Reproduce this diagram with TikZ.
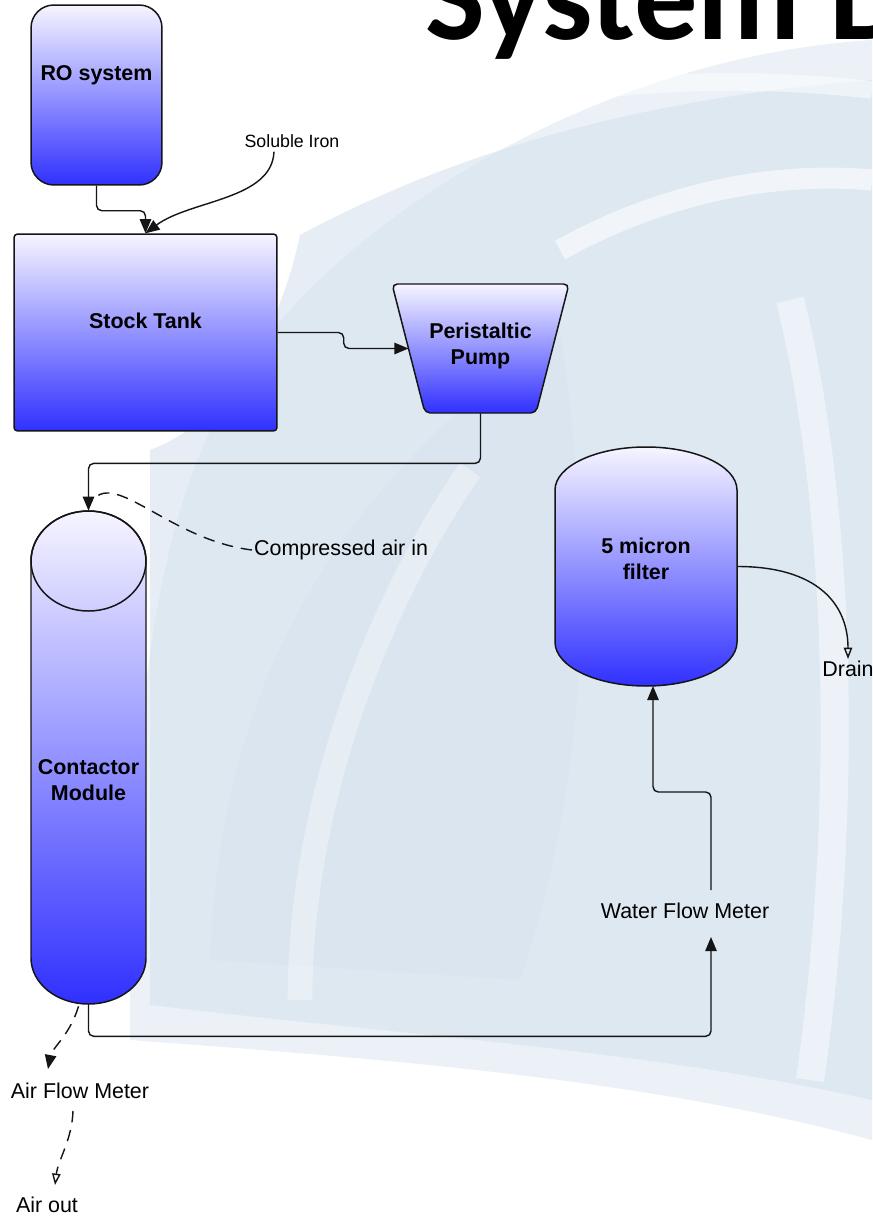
\documentclass[tikz,border=0pt]{standalone}
\usepackage{fontspec}
\setmainfont{Liberation Sans}
\newfontfamily\titlefont{Carlito}
\usepackage{tikz}
\usetikzlibrary{arrows.meta,calc,positioning}
\definecolor{tankTop}{HTML}{F6F5FF}
\definecolor{tankBottom}{HTML}{3030FF}
\definecolor{washBlue}{HTML}{D6E2EE}
\definecolor{lineGray}{HTML}{151515}

\begin{document}
\begin{tikzpicture}[x=0.02cm,y=-0.02cm,
  font=\fontsize{12.2}{14.7}\selectfont,
  unit/.style={draw=lineGray,line width=0.85pt,top color=tankTop,bottom color=tankBottom,inner sep=0pt},
  unitlabel/.style={font=\fontsize{12.2}{14.7}\selectfont\bfseries,align=center,inner sep=1pt},
  note/.style={inner sep=1pt},
  flow/.style={draw=lineGray,line width=0.8pt,-{Triangle[length=8pt,width=6.5pt]}},
  airflow/.style={flow,dash pattern=on 6.5pt off 4.5pt},
  ventflow/.style={draw=lineGray,line width=0.8pt,dash pattern=on 6.5pt off 4.5pt,-{Triangle[open,length=6.5pt,width=4.8pt]}},
  drainflow/.style={draw=lineGray,line width=0.8pt,-{Triangle[open,length=6.5pt,width=4.8pt]}}]
  \useasboundingbox (0,0) rectangle (872,1216);

  % washed-out background
  \fill[white] (0,0) rectangle (872,1216);
  \fill[washBlue,opacity=0.45] (130,1040) .. controls (130,800) and (140,520) .. (240,380)
    .. controls (300,260) and (560,60) .. (872,40) -- (872,1140)
    .. controls (650,1080) and (400,1060) .. cycle;
  \fill[washBlue,opacity=0.6] (150,1005) -- (150,450) .. controls (230,420) and (280,330) .. (300,235)
    .. controls (440,160) and (620,100) .. (872,80) -- (872,1100)
    .. controls (650,1050) and (400,1035) .. cycle;
  \fill[washBlue,opacity=0.45] (210,960) .. controls (220,700) and (320,500) .. (560,330)
    .. controls (600,600) and (580,800) .. (520,980) -- cycle;
  \draw[white,opacity=0.6,line width=12pt] (560,250) .. controls (650,200) and (760,170) .. (872,180);
  \draw[white,opacity=0.5,line width=10pt] (430,120) .. controls (550,90) and (700,70) .. (872,90);
  \draw[white,opacity=0.45,line width=16pt] (790,300) .. controls (840,500) and (850,800) .. (810,1080);
  \draw[white,opacity=0.35,line width=14pt] (300,1000) .. controls (300,800) and (380,600) .. (470,470);
  \node[anchor=base west,inner sep=0pt,font=\titlefont\bfseries\fontsize{72}{82}\selectfont] (title) at (425,40) {System D};

  % units
  \node[unit,rounded corners=13pt,minimum width=2.62cm,minimum height=3.6cm] (ro) at (96.5,95) {};
  \node[unitlabel] (rotext) at (96.5,75) {RO system};

  \node[unit,rounded corners=2pt,minimum width=5.26cm,minimum height=3.94cm] (stock) at (145.5,332.5) {};
  \node[unitlabel] (stocktext) at (145.5,321) {Stock Tank};

  \node[minimum width=3.54cm,minimum height=2.58cm,inner sep=0pt] (pump) at (480.5,348.5) {};
  \path[unit,rounded corners=3pt] (392,284) -- (569,284) -- (536,413) -- (425,413) -- cycle;
  \node[unitlabel] (pumptext) at (480.5,346) {Peristaltic\\Pump};
  \coordinate (pumpin) at (408.5,348.5);

  \node[minimum width=2.3cm,minimum height=9.86cm,inner sep=0pt] (contactor) at (88.5,757.5) {};
  \path[unit] (31,561) arc[start angle=180,end angle=360,x radius=57.5,y radius=50]
    -- (146,958) arc[start angle=0,end angle=180,x radius=57.5,y radius=46] -- cycle;
  \draw[lineGray,line width=0.85pt] (88.5,561) ellipse[x radius=57.5,y radius=50];
  \node[unitlabel] (contactortext) at (88.5,780) {Contactor\\Module};

  \node[minimum width=3.64cm,minimum height=4.78cm,inner sep=0pt] (filter) at (646,566.5) {};
  \path[unit] (555,490) arc[start angle=180,end angle=360,x radius=91,y radius=43]
    -- (737,642) arc[start angle=0,end angle=180,x radius=91,y radius=44] -- cycle;
  \node[unitlabel] (filtertext) at (646,559) {5 micron\\filter};

  % labels
  \node[note,font=\fontsize{10.1}{12}\selectfont] (iron) at (292,141) {Soluble Iron};
  \node[note,anchor=west] (airin) at (252,550) {Compressed air in};
  \node[note] (wfm) at (685,911) {Water Flow Meter};
  \node[note] (drain) at (848,669) {Drain};
  \node[note] (afm) at (80,1091) {Air Flow Meter};
  \node[note] (airout) at (47,1205) {Air out};

  \coordinate (wfmin) at (711,937);
  \coordinate (wfmout) at (711,890);
  \coordinate (filterin) at (653,686);

  % water line
  \draw[flow,rounded corners=3pt] (ro.south) -- ++(0,25) -| (stock.north);
  \draw[flow] ($(iron.south)+(-18,2)$) .. controls (272,200) and (190,200) .. (stock.north);
  \draw[flow,rounded corners=3pt] (stock.east) -- ++(66,0) |- (pumpin);
  \draw[flow,rounded corners=3pt] (pump.south) -- ++(0,50) -| (contactor.north);
  \draw[flow,rounded corners=3pt] (contactor.south) -- ++(0,32) -| (wfmin);
  \draw[flow,rounded corners=3pt] (wfmout) -- ++(0,-98) -| (filterin);
  \draw[drainflow] (filter.east) .. controls +(80,0) and +(0,-55) .. (drain.north);

  % air line
  \draw[lineGray,line width=0.8pt,dash pattern=on 6.5pt off 4.5pt] (airin.west) .. controls (170,540) and (115,470) .. ($(contactor.north)+(4,-10)$);
  \draw[airflow] ($(contactor.south)+(-10,2)$) .. controls (70,1035) and (52,1048) .. ($(afm.north)+(-32,-12)$);
  \draw[ventflow] ($(afm.south)+(-7,10)$) .. controls (72,1140) and (58,1160) .. ($(airout.north)+(8,-10)$);
\end{tikzpicture}
\end{document}
